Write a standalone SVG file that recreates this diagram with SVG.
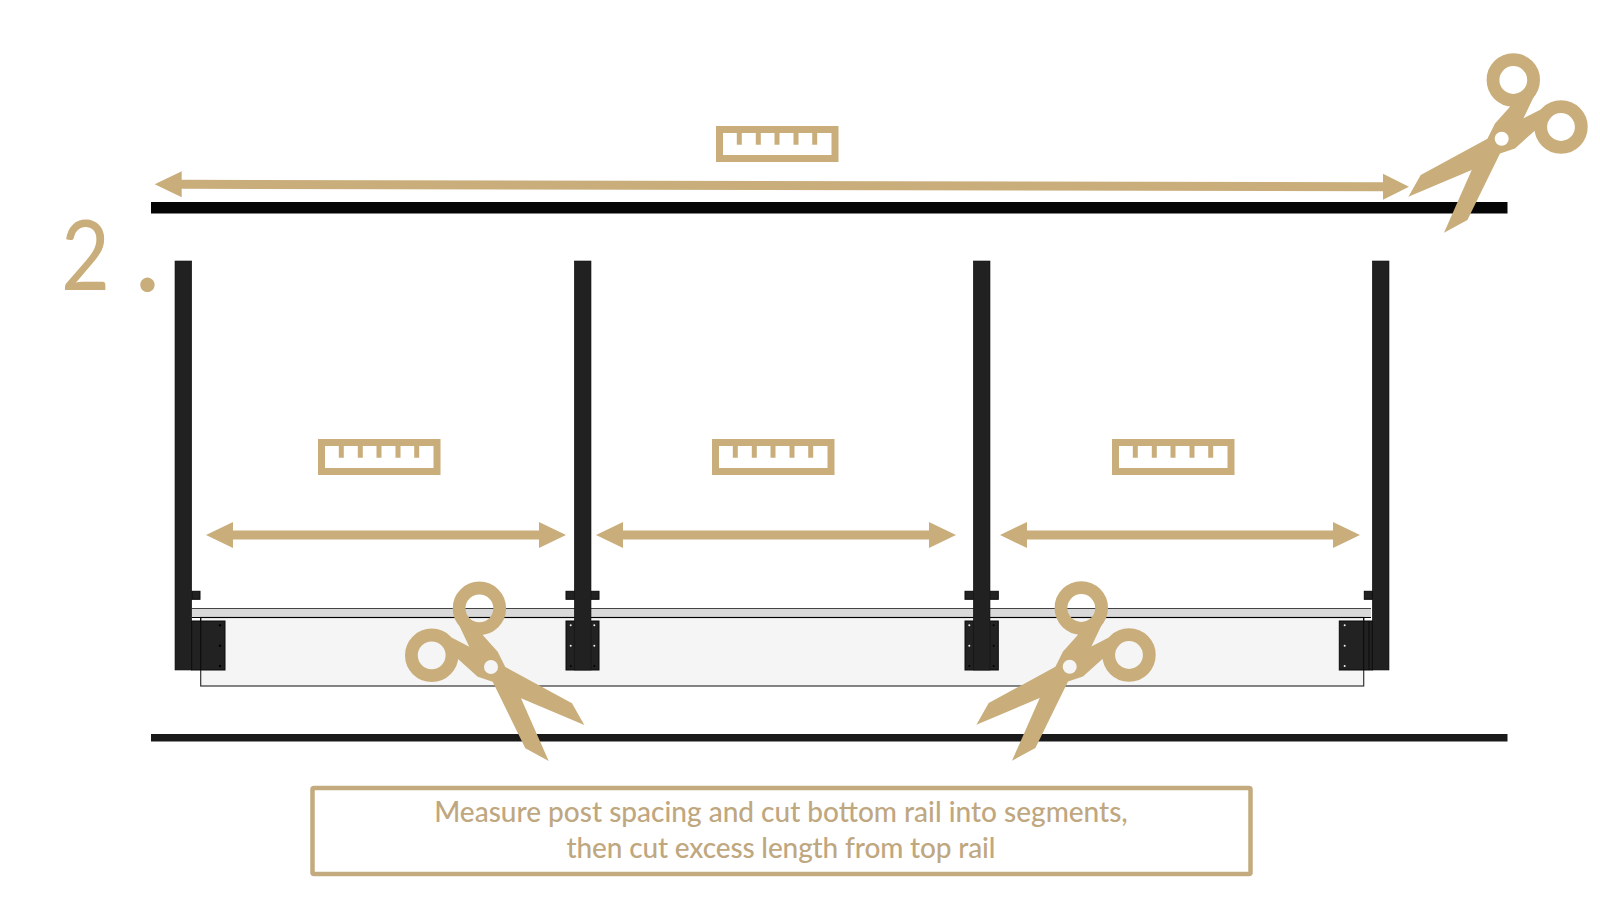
<svg xmlns="http://www.w3.org/2000/svg" width="1600" height="900" viewBox="0 0 1600 900">
<style>
.g{fill:#c9ae7c}
.post{fill:#212121;stroke:#111;stroke-width:.6}
.br{fill:#222;stroke:#0a0a0a;stroke-width:1}
.ln{stroke:#0a0a0a;stroke-width:1;fill:none}
.wd{fill:#eee}
.kd{fill:#000}
.rr{fill:#fff;stroke:#c9ae7c;stroke-width:7}
.tick{stroke:#c9ae7c;stroke-width:5}
.cap{font-family:Lato,"Open Sans",sans-serif;font-size:28px;font-weight:500;fill:#bfa77f;text-anchor:middle}
.num{font-family:Lato,"Open Sans",sans-serif;fill:#c9ae7c}
</style>
<defs>
<g id="sc">
<path class="g" fill-rule="evenodd" d="M-93.3 58L-81 36.3L-14.3 0L-6.7 -15.3L8.3 -32L5 -38L14 -42L33 -44L21.7 -20.3L39.500 -29.500L44 -20L38 -8L33 -8L13.3 9.7L-1.7 14.7L-34.3 81.3L-57.7 94L-30 31.3ZM7 0A7 7 0 1 0 -7 0A7 7 0 1 0 7 0Z"/>
<circle cx="11.6" cy="-58.7" r="20.3" fill="none" stroke="#c9ae7c" stroke-width="12.8"/>
<circle cx="59.3" cy="-11.7" r="20.3" fill="none" stroke="#c9ae7c" stroke-width="12.8"/>
</g>
<g id="ruler">
<rect class="rr" x="3.5" y="3.5" width="115.5" height="29"/>
<path class="tick" d="M23.3 5V18.7M42.3 5V18.7M61 5V18.7M80 5V18.7M98.7 5V18.7"/>
</g>
<g id="ar">
<path class="g" d="M0 0L27 -13V-4.5H333V-13L360 0L333 13V4.5H27V13Z"/>
</g>
</defs>
<rect width="1600" height="900" fill="#fff"/>
<g id="rail-top"><rect x="151" y="202" width="1356.500" height="11.500" fill="#050505"/></g>
<g id="rail-bottom"><rect x="151" y="734" width="1356.500" height="7.500" fill="#1a1a1a"/></g>
<g id="panel">
<rect x="192" y="608.500" width="1179" height="9" fill="#d9d9d9"/>
<path d="M192 608.500H1371" stroke="#444" stroke-width="1.200"/>
<rect x="200.700" y="617.500" width="1163" height="68.500" fill="#f5f5f5" stroke="#333" stroke-width="1.200"/>
<path d="M192 617.500H1371" stroke="#000" stroke-width="1"/>
</g>
<g id="post-1">
<rect class="post" x="175" y="261" width="16.700" height="409"/>
<rect class="br" x="192" y="591.300" width="8" height="8"/>
<rect class="br" x="191.700" y="621" width="33.300" height="49"/>
<path class="ln" d="M200.700 617V670"/>
<circle class="kd" cx="220" cy="625.300" r="1.200"/><circle class="kd" cx="220" cy="645.700" r="1.200"/><circle class="kd" cx="220" cy="666" r="1.200"/>
</g>
<g id="post-2">
<rect class="br" x="566" y="591.300" width="33" height="8"/>
<rect class="br" x="566" y="621" width="33" height="49"/>
<rect class="post" x="574.300" y="261" width="16.700" height="409"/>
<circle class="wd" cx="570.700" cy="625.300" r="1"/><circle class="wd" cx="570.700" cy="645.700" r="1"/><circle class="kd" cx="570.700" cy="666" r="1"/>
<circle class="wd" cx="594.300" cy="625.300" r="1"/><circle class="wd" cx="594.300" cy="645.700" r="1"/><circle class="kd" cx="594.300" cy="666" r="1"/>
</g>
<g id="post-3">
<rect class="br" x="965" y="591.300" width="33.300" height="8"/>
<rect class="br" x="965" y="621" width="33.300" height="49"/>
<rect class="post" x="973.300" y="261" width="16.700" height="409"/>
<circle class="wd" cx="969.300" cy="625.300" r="1"/><circle class="wd" cx="969.300" cy="645.700" r="1"/><circle class="kd" cx="969.300" cy="666" r="1"/>
<circle class="kd" cx="993.700" cy="625.300" r="1"/><circle class="kd" cx="993.700" cy="645.700" r="1"/><circle class="kd" cx="993.700" cy="666" r="1"/>
</g>
<g id="post-4">
<rect class="post" x="1372.300" y="261" width="16.700" height="409"/>
<rect class="br" x="1364.300" y="591.300" width="8" height="8"/>
<rect class="br" x="1339.300" y="621" width="33" height="49"/>
<path class="ln" d="M1363.700 617V670M1369 621V670"/>
<circle class="wd" cx="1344.700" cy="625.300" r="1"/><circle class="wd" cx="1344.700" cy="645.700" r="1"/><circle class="wd" cx="1344.700" cy="666" r="1"/>
</g>
<g id="connectors">
<path class="g" d="M154.700 184.300L181.700 171.300V179.800L1383 182.200V173.700L1409 186.700L1383 199.700V191.200L181.700 188.800V197.300Z"/>
<use href="#ar" x="206" y="535"/>
<use href="#ar" x="596" y="535"/>
<use href="#ar" x="1000" y="535"/>
</g>
<g id="ruler-top"><use href="#ruler" x="716" y="126"/></g>
<g id="ruler-1"><use href="#ruler" x="318" y="439"/></g>
<g id="ruler-2"><use href="#ruler" x="712" y="439"/></g>
<g id="ruler-3"><use href="#ruler" x="1112" y="439"/></g>
<g id="scissors-top"><use href="#sc" x="1501.700" y="138.700"/></g>
<g id="scissors-right"><use href="#sc" x="1069.700" y="666.700"/></g>
<g id="scissors-left"><use href="#sc" transform="translate(491 667) scale(-1 1)"/></g>
<g id="step"><text class="num" transform="translate(61 290) scale(.87 1)" font-size="97">2</text><text class="num" x="134" y="290.500" font-size="114">.</text></g>
<g id="caption">
<rect x="312.500" y="788" width="938" height="86" rx="1.500" fill="#fff" stroke="#c4aa7f" stroke-width="4.500"/>
<text class="cap" x="781" y="822">Measure post spacing and cut bottom rail into segments,</text>
<text class="cap" x="781" y="858" textLength="429" lengthAdjust="spacing">then cut excess length from top rail</text>
</g>
</svg>
